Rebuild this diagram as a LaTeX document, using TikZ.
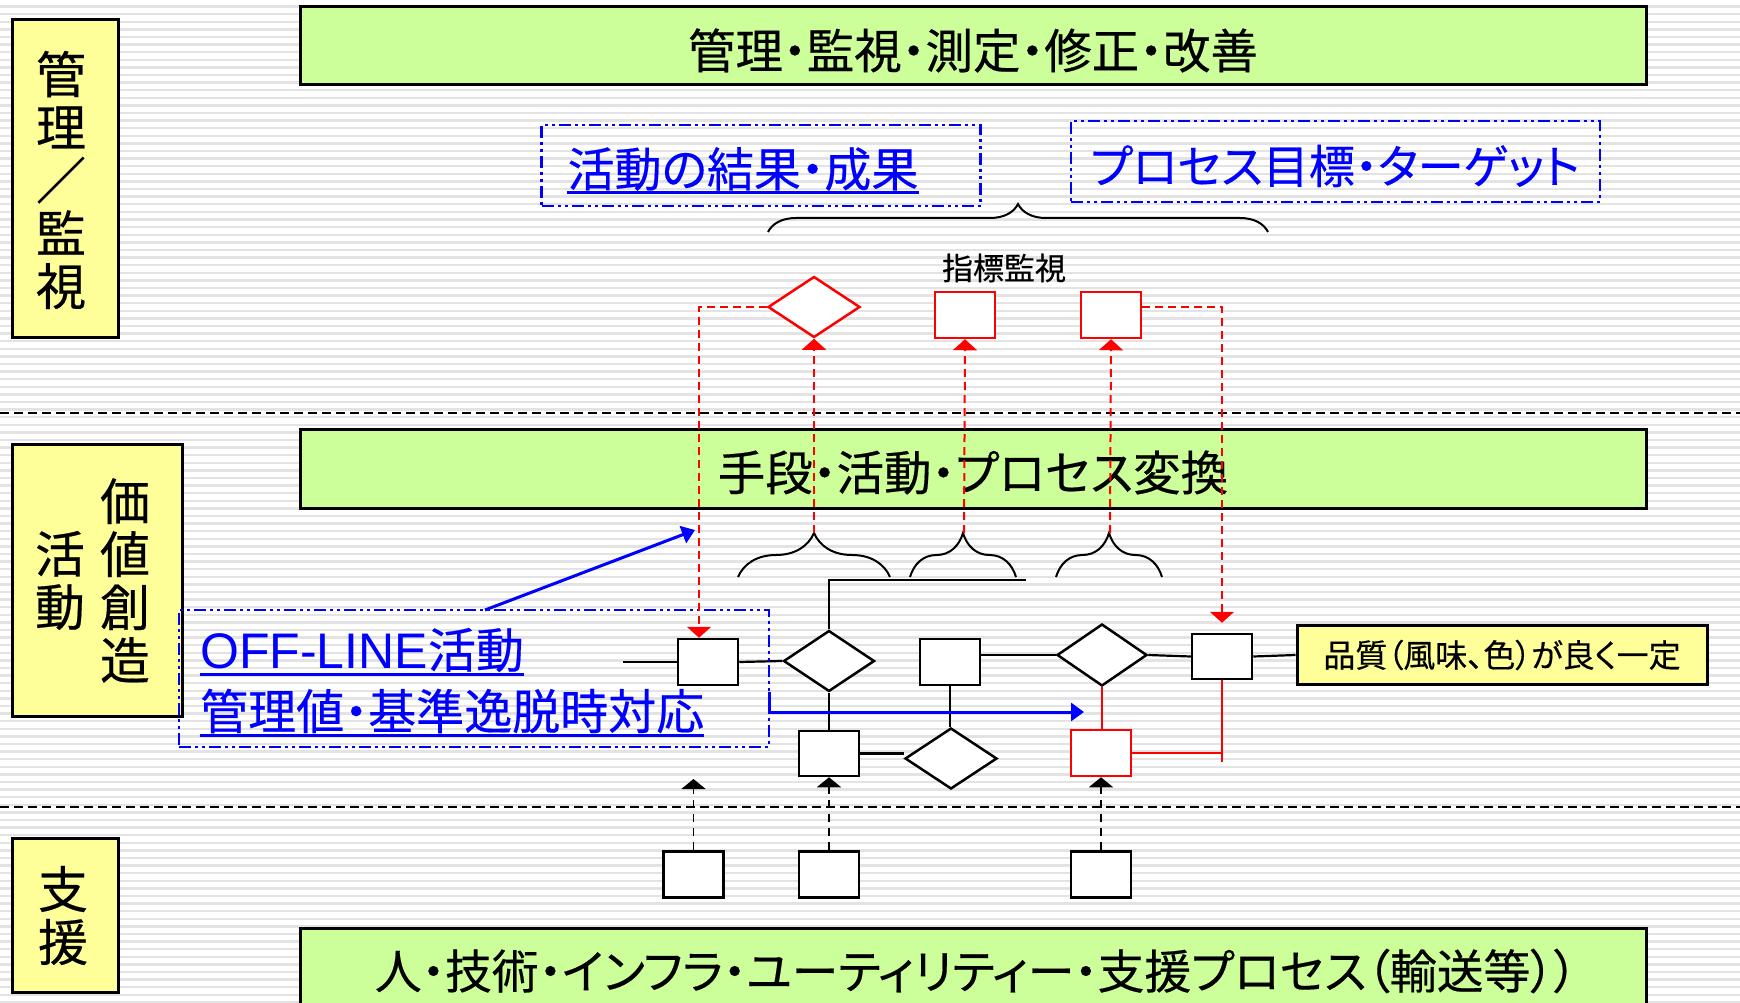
\documentclass[tikz,border=0pt]{standalone}
\usepackage{fontspec}
\usetikzlibrary{shapes.geometric,arrows.meta,decorations.pathreplacing,calc}
\newfontfamily\jp[RawFeature=+palt, FakeBold=0.4]{Noto Sans CJK JP}
\newfontfamily\lat{Liberation Sans}
\definecolor{lime}{HTML}{CCFF99}
\definecolor{pale}{HTML}{FFFF99}
\definecolor{stripe}{HTML}{E3E3E3}
\begin{document}
\begin{tikzpicture}[x=1pt,y=-1pt,
  greenbox/.style={draw=black, line width=3pt, fill=lime, inner sep=0pt},
  palebox/.style={draw=black, line width=3pt, fill=pale, inner sep=0pt},
  titletext/.style={inner sep=0pt, font=\jp\fontsize{47.5}{47.5}\selectfont},
  vtext/.style={inner sep=0pt, align=center, font=\jp\fontsize{50}{53}\selectfont},
  proc/.style={rectangle, draw=black, line width=2.5pt, fill=white, minimum width=60pt, minimum height=46pt, inner sep=0pt},
  decis/.style={diamond, draw=black, line width=2.5pt, fill=white, minimum width=91pt, minimum height=61pt, inner sep=0pt},
  redproc/.style={proc, draw=red},
  reddecis/.style={decis, draw=red},
  conn/.style={draw=black, line width=2.2pt},
  redconn/.style={draw=red, line width=2.2pt},
  reddash/.style={draw=red, line width=2pt, dash pattern=on 8pt off 5pt, -{Triangle[width=24pt,length=11pt]}},
  blackdash/.style={draw=black, line width=1.8pt, dash pattern=on 8pt off 6pt, -{Triangle[width=24pt,length=10pt]}},
  sepline/.style={draw=black, line width=2.5pt, dash pattern=on 9pt off 5pt},
  bluedd/.style={draw=blue, line width=2.5pt, dash pattern=on 12pt off 4pt on 3pt off 4pt on 3pt off 4pt, inner sep=0pt},
  bluearrow/.style={draw=blue, line width=3pt, -{Triangle[width=18pt,length=13pt]}},
  bluetext/.style={text=blue, inner sep=0pt, font=\jp\fontsize{47}{47}\selectfont},
  uline/.style={draw=blue, line width=3pt},
  bracestyle/.style={draw=black, line width=2pt, decorate, decoration={brace, amplitude=#1}},
]
\useasboundingbox (0,0) rectangle (1740,1003);
\fill[white] (0,0) rectangle (1740,1003);
\foreach \i in {0,...,131} {
  \draw[stripe, line width=2.4pt] (0,{6.7+7.6*\i}) -- (1740,{6.7+7.6*\i});
}

% separators
\draw[sepline] (0,413) -- (1740,413);
\draw[sepline] (0,807) -- (1740,807);

% left labels
\node[palebox, minimum width=106pt, minimum height=317pt] (lab1) at (65,178.5) {};
\node[vtext] (lab1t) at (61,180) {管\\理\\／\\監\\視};
\node[palebox, minimum width=170pt, minimum height=272pt] (lab2) at (97,580) {};
\node[vtext] (lab2a) at (125,580.5) {価\\値\\創\\造};
\node[vtext] (lab2b) at (60,580.5) {活\\動};
\node[palebox, minimum width=106pt, minimum height=154pt] (lab3) at (65,915) {};
\node[vtext] (lab3t) at (63,915.5) {支\\援};

% green bars
\node[greenbox, minimum width=1346pt, minimum height=78pt] (g1) at (973,46) {};
\node[titletext] (g1t) at (973,50.5) {管理・監視・測定・修正・改善};
\node[greenbox, minimum width=1346pt, minimum height=79pt] (g2) at (973,468.5) {};
\node[titletext] (g2t) at (973,472.5) {手段・活動・プロセス変換};
\node[greenbox, minimum width=1346pt, minimum height=86pt] (g3) at (973,971) {};
\node[titletext, font=\jp\fontsize{46.8}{46.8}\selectfont] (g3t) at (976,971) {人・技術・インフラ・ユーティリティー・支援プロセス（輸送等））};

% blue dashed boxes (top)
\node[bluedd, minimum width=439pt, minimum height=81pt] (rbox) at (761,165.5) {};
\node[bluetext] (rtext) at (743,169) {活動の結果・成果};
\draw[uline] ([yshift=-2pt]rtext.south west) -- ([yshift=-2pt]rtext.south east);
\node[bluedd, minimum width=529pt, minimum height=81pt] (tbox) at (1335.5,161.5) {};
\node[bluetext, font=\jp\fontsize{46}{46}\selectfont] (ttext) at (1335,166) {プロセス目標・ターゲット};

% top brace
\draw[bracestyle=28pt] (768,232) -- (1268,232);
\node[inner sep=0pt, font=\jp\fontsize{31}{31}\selectfont] (kpi) at (1004,268) {指標監視};

% red monitoring shapes
\node[reddecis, minimum width=92pt] (rd) at (814,307) {};
\node[redproc] (rs1) at (965,315) {};
\node[redproc] (rs2) at (1111,315) {};

% lower braces
\draw[bracestyle=44pt] (738,577) -- (890,577);
\draw[bracestyle=44pt] (910,577) -- (1016,577);
\draw[bracestyle=44pt] (1056,577) -- (1162,577);
\coordinate (bt1) at (814,533);
\coordinate (bt2) at (964,533);
\coordinate (bt3) at (1110,533);

% process elements
\coordinate (in0) at (623,662);
\node[proc] (s1) at (708,662) {};
\node[decis] (d1) at (829,661) {};
\node[proc] (s2) at (950,662) {};
\node[decis, minimum width=90pt, minimum height=62pt] (d2) at (1102,655) {};
\node[proc, minimum height=45pt] (s3) at (1222,656.5) {};
\node[palebox, minimum width=410pt, minimum height=59pt, font=\jp\fontsize{32}{32}\selectfont] (q) at (1502,655) {品質（風味、色）が良く一定};
\node[proc, minimum height=45pt] (s4) at (829,753.5) {};
\node[decis, minimum width=92pt] (d3) at (951,758.5) {};
\node[redproc] (s5) at (1101,753) {};

% support
\node[proc] (sa) at (693.5,874.5) {};
\node[proc] (sb) at (829,874.5) {};
\node[proc] (sc) at (1101,874.5) {};

% black connectors
\coordinate (jn) at (829,580);
\coordinate (jn2) at (1026,580);
\draw[conn] (d1.north) -- (jn) -- (jn2);
\draw[conn] (in0) -- (in0 -| s1.west);
\draw[conn] (s1.east) -- (d1.west);
\draw[conn] (s2.east |- d2.west) -- (d2.west);
\draw[conn] (d2.east) -- (s3.west);
\draw[conn] (s3.east) -- (q.west);
\draw[conn] (d1.south) -- (s4.north);
\draw[conn] (s2.south) -- (s2.south |- d3.north);
\draw[conn] (s4.east) -- (s4.east -| d3.west);

% red connectors
\coordinate (rend) at (1222,762);
\draw[redconn] (d2.south) -- (d2.south |- s5.north);
\draw[redconn] (s3.south) -- (rend);
\draw[redconn] (s5.east) -- (s5.east -| rend);

% OFF-LINE box
\node[bluedd, minimum width=590pt, minimum height=137pt] (ob) at (474,678.5) {};
\node[bluetext, anchor=west, font=\jp\fontsize{48}{48}\selectfont] (off1) at (200,650) {{\lat\fontsize{50}{50}\selectfont OFF-LINE}活動};
\draw[uline] ([yshift=-2pt]off1.south west) -- ([yshift=-2pt]off1.south east);
\node[bluetext, anchor=west, font=\jp\fontsize{48}{48}\selectfont] (off2) at (200,711) {管理値・基準逸脱時対応};
\draw[uline] ([yshift=-2pt]off2.south west) -- ([yshift=-2pt]off2.south east);

% blue arrows
\coordinate (ba1) at (485,610);
\coordinate (ba2) at (695,530);
\draw[bluearrow] (ba1) -- (ba2);
\coordinate (bb1) at (769,692);
\coordinate (bb2) at (1084,712);
\draw[bluearrow] (bb1) |- (bb2);

% red dashed monitoring lines
\coordinate (rl) at (699,307);
\coordinate (rr) at (1222,307);
\draw[reddash] (rd.west) -- (rl) -- (rl |- s1.north);
\draw[reddash, shorten >=10pt] (rr -| rs2.east) -- (rr) -- (rr |- s3.north);
\draw[reddash] (bt1) -- (rd.south);
\draw[reddash] (bt2) -- (rs1.south);
\draw[reddash] (bt3) -- (rs2.south);

% support arrows
\coordinate (atip) at (693.5,779);
\draw[blackdash] (sa.north) -- (atip);
\draw[blackdash] (sb.north) -- (s4.south);
\draw[blackdash] (sc.north) -- (s5.south);
\end{tikzpicture}
\end{document}
